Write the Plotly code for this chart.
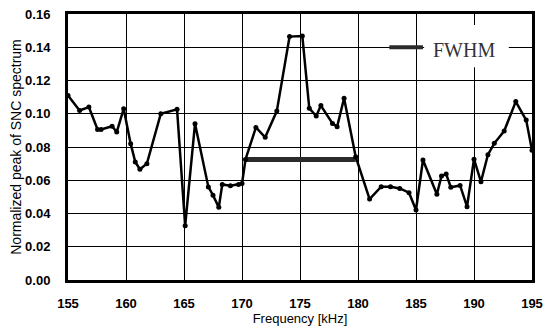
import plotly.graph_objects as go

freq_khz = [155.0, 156.0, 156.8, 157.55, 157.85, 158.8, 159.2, 159.8, 160.4, 160.8,
            161.2, 161.8, 163.0, 164.4, 165.1, 165.95, 167.1, 167.5, 168.0, 168.3,
            169.0, 169.7, 170.0, 170.3, 171.2, 172.0, 173.0, 174.1, 175.2, 175.8,
            176.4, 176.8, 177.8, 178.2, 178.8, 179.8, 181.0, 182.0, 182.8, 183.6,
            184.4, 185.0, 185.6, 186.8, 187.2, 187.6, 188.0, 188.8, 189.4, 190.0,
            190.6, 191.2, 191.75, 192.6, 193.6, 194.5, 195.0]
peak_values = [0.111, 0.102, 0.104, 0.0905, 0.0905, 0.0925, 0.089, 0.103, 0.082, 0.071,
               0.0666, 0.070, 0.100, 0.1027, 0.0327, 0.094, 0.056, 0.051, 0.0437, 0.0575,
               0.0567, 0.0575, 0.058, 0.0725, 0.0918, 0.0858, 0.1016, 0.1464, 0.1468, 0.1033,
               0.0986, 0.1049, 0.0942, 0.0922, 0.1093, 0.0742, 0.0487, 0.0561, 0.0561, 0.0551,
               0.0525, 0.0421, 0.0722, 0.0516, 0.0626, 0.0637, 0.0558, 0.0569, 0.0441, 0.0727,
               0.0591, 0.0754, 0.0822, 0.0896, 0.1073, 0.0962, 0.078]

fwhm_x = [170.3, 179.8]
fwhm_y = [0.0725, 0.0725]

x_ticks = [155, 160, 165, 170, 175, 180, 185, 190, 195]
y_ticks = [0.00, 0.02, 0.04, 0.06, 0.08, 0.10, 0.12, 0.14, 0.16]

tick_font = dict(family="Liberation Sans, Arial", size=13, color="black", weight="bold")
title_font = dict(family="Liberation Sans, Arial", size=13, color="black")
ytitle_font = dict(family="Liberation Sans, Arial", size=14, color="black")

fig = go.Figure()
fig.add_trace(go.Scatter(x=fwhm_x, y=fwhm_y, mode="lines",
                         line=dict(color="#2b2b2b", width=5), showlegend=False))
fig.add_trace(go.Scatter(x=freq_khz, y=peak_values, mode="lines+markers",
                         line=dict(color="black", width=2.5),
                         marker=dict(color="black", size=5), showlegend=False))

# legend box (white) and sample line
fig.add_shape(type="rect", xref="x", yref="y", x0=185.7, x1=193.0, y0=0.128, y1=0.1534,
              fillcolor="white", line=dict(width=0), layer="above")
fig.add_shape(type="line", xref="x", yref="y", x0=182.7, x1=185.6, y0=0.14, y1=0.14,
              line=dict(color="#2b2b2b", width=4), layer="above")
fig.add_annotation(x=186.3, y=0.1383, xref="x", yref="y", text="FWHM", showarrow=False,
                   xanchor="left", yanchor="middle",
                   font=dict(family="Liberation Serif, Times New Roman, serif", size=20, color="#333333"))

fig.update_xaxes(range=[155, 195], tickvals=x_ticks, ticktext=[str(v) for v in x_ticks],
                 showgrid=True, gridcolor="black", gridwidth=1,
                 showline=True, linecolor="black", linewidth=3, mirror=True,
                 ticks="", tickfont=tick_font, ticklabelstandoff=9,
                 title=dict(text="Frequency [kHz]", font=title_font, standoff=5),
                 zeroline=False, automargin=False)
fig.update_yaxes(range=[0, 0.16], tickvals=y_ticks, ticktext=[f"{v:.2f}" for v in y_ticks],
                 showgrid=True, gridcolor="black", gridwidth=1,
                 showline=True, linecolor="black", linewidth=3, mirror=True,
                 ticks="", tickfont=tick_font, ticklabelstandoff=12,
                 title=dict(text="Normalized peak of SNC spectrum", font=ytitle_font, standoff=1),
                 zeroline=False, automargin=False)

fig.update_layout(width=544, height=329, margin=dict(l=68, r=12, t=14, b=49),
                  paper_bgcolor="white", plot_bgcolor="white")

fig.write_html("out.html", config={"displayModeBar": False},
               post_script="document.body.style.margin='0';")
